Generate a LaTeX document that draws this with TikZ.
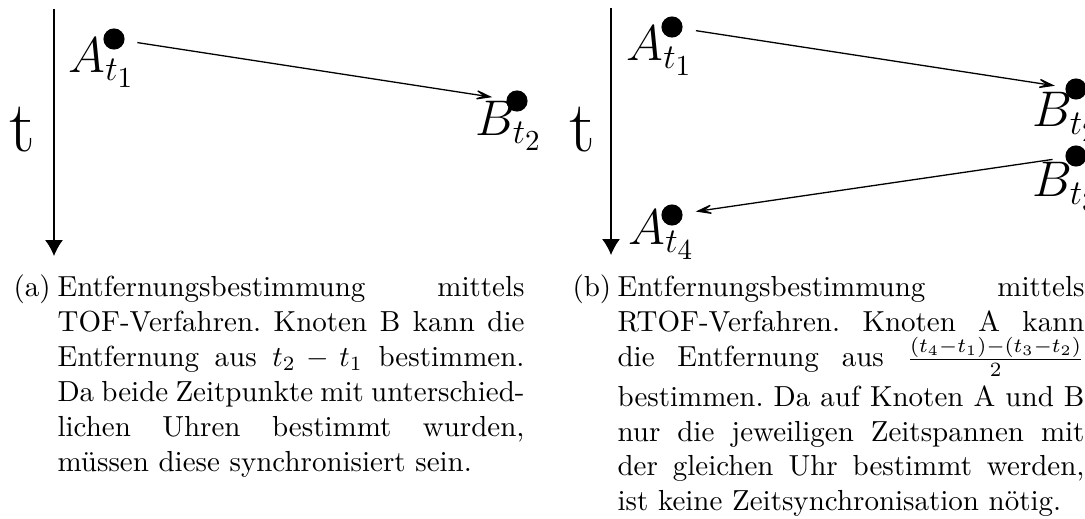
\documentclass[tikz,border=0pt]{standalone}
\usetikzlibrary{arrows.meta}
\newcommand{\capfont}{\fontsize{10}{12}\selectfont\frenchspacing}
\begin{document}
\begin{tikzpicture}[x=0.3448pt,y=-0.3448pt,
  dot/.style={circle, fill=black, inner sep=0pt, minimum size=7.3pt},
  lbl/.style={anchor=base west, inner sep=0pt, font=\LARGE},
  tlbl/.style={anchor=base, inner sep=0pt, font=\Huge},
  msg/.style={-{Stealth[length=7.5pt,width=4.6pt,inset=4.4pt]}, line width=0.45pt},
  axis/.style={-{Latex[length=5.5pt,width=6.2pt]}, line width=0.45pt},
  caplbl/.style={anchor=base west, inner sep=0pt, font=\capfont},
  capbox/.style={anchor=base west, inner sep=0pt, font=\capfont}]
\clip (0,0) rectangle (1085,519);
% ---------- left panel ----------
\coordinate (la0) at (54,9);
\coordinate (la1) at (54,256);
\draw[axis] (la0) -- (la1);
\node[tlbl] (lt) at (22,152) {t};
\node[dot] (la) at (114,39) {};
\node[dot] (lb) at (517,101) {};
\node[lbl] (lalbl) at (68,73) {$A_{t_1}$};
\node[lbl] (lblbl) at (475,136) {$B_{t_2}$};
\draw[msg, shorten <=4.3pt, shorten >=4.8pt] (la) -- (lb);
% ---------- right panel ----------
\coordinate (ra0) at (611,8);
\coordinate (ra1) at (611,255);
\draw[axis] (ra0) -- (ra1);
\node[tlbl] (rt) at (582,152) {t};
\node[dot] (ra1d) at (672,27) {};
\node[dot] (rb2d) at (1076,89) {};
\node[dot] (rb3d) at (1076,156) {};
\node[dot] (ra4d) at (672,215) {};
\node[lbl] (ra1l) at (626,61) {$A_{t_1}$};
\node[lbl] (rb2l) at (1032,127) {$B_{t_2}$};
\node[lbl] (rb3l) at (1032,197) {$B_{t_3}$};
\node[lbl] (ra4l) at (628,245) {$A_{t_4}$};
\draw[msg, shorten <=4.5pt, shorten >=3.5pt] (ra1d) -- (rb2d);
\draw[msg, shorten <=4.3pt, shorten >=4.4pt] (rb3d) -- (ra4d);
% ---------- captions ----------
\node[caplbl] (capal) at (13,297) {(a)};
\node[capbox] (capa) at (57,297) {\parbox[t]{161pt}{\capfont\hyphenpenalty=10000 \exhyphenpenalty=10000 \tolerance=10000
Entfernungsbestimmung mittels\linebreak
TOF-Verfahren. Knoten B kann die\linebreak
Entfernung aus $t_2 - t_1$ bestimmen.\linebreak
Da beide Zeitpunkte mit unterschied-\linebreak
lichen Uhren bestimmt wurden,\linebreak
müssen diese synchronisiert sein.}};
\node[caplbl] (capbl) at (572,297) {(b)};
\node[capbox] (capb) at (617,297) {\parbox[t]{161pt}{\capfont\hyphenpenalty=10000 \exhyphenpenalty=10000 \tolerance=10000
Entfernungsbestimmung mittels\linebreak
RTOF-Verfahren. Knoten A kann\linebreak
die Entfernung aus $\frac{(t_4-t_1)-(t_3-t_2)}{2}$\rule[-5.5pt]{0pt}{5.5pt}\linebreak
bestimmen. Da auf Knoten A und B\linebreak
nur die jeweiligen Zeitspannen mit\linebreak
der gleichen Uhr bestimmt werden,\linebreak
ist keine Zeitsynchronisation nötig.}};
\end{tikzpicture}
\end{document}
